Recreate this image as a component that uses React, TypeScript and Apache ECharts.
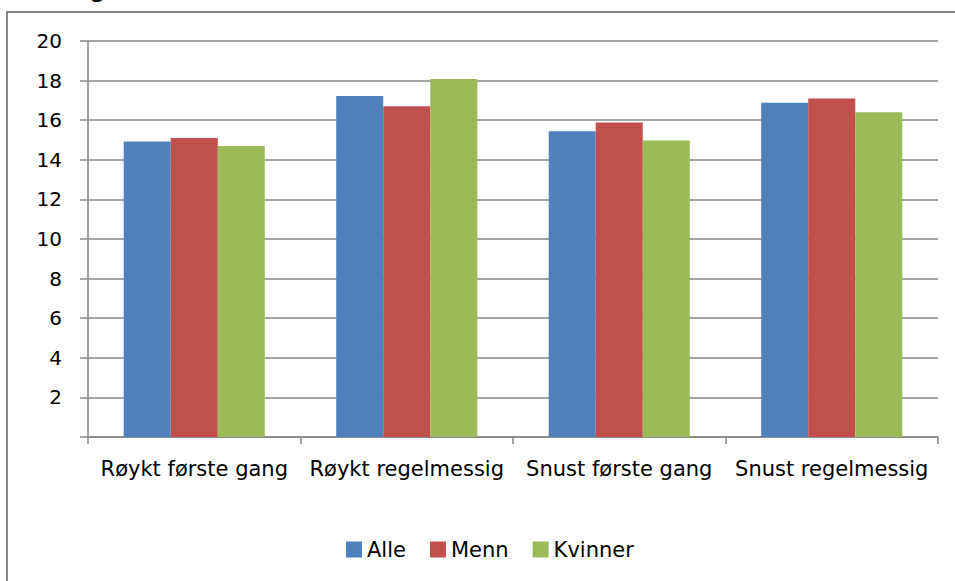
import React, { useEffect, useRef } from "react";
import * as echarts from "echarts";

const categories = ["Røykt første gang", "Røykt regelmessig", "Snust første gang", "Snust regelmessig"];
const seriesNames = ["Alle", "Menn", "Kvinner"];
const alle = [14.92, 17.22, 15.44, 16.88];
const menn = [15.1, 16.7, 15.89, 17.09];
const kvinner = [14.7, 18.08, 14.98, 16.4];
const colors = ["#4F81BD", "#C0504D", "#9BBB59"];
const yMin = 0;
const yMax = 20;
const yInterval = 2;

const FONT = "DejaVu Sans";
const GRAY = "#868686";

export default function App() {
  const ref = useRef<HTMLDivElement>(null);
  useEffect(() => {
    if (!ref.current) return;
    const chart = echarts.init(ref.current, undefined, { renderer: "svg" });
    const values = [alle, menn, kvinner];
    chart.setOption({
      animation: false,
      backgroundColor: "#ffffff",
      textStyle: { fontFamily: FONT },
      grid: { left: 88, right: 17, top: 41, bottom: 144, containLabel: false },
      legend: {
        data: seriesNames,
        left: 341,
        top: 534,
        itemWidth: 16,
        itemHeight: 16,
        itemGap: 24,
        icon: "rect",
        textStyle: { fontFamily: FONT, fontSize: 21, color: "#000000" },
      },
      xAxis: {
        type: "category",
        data: categories,
        axisLine: { show: true, lineStyle: { color: GRAY, width: 1.5 } },
        axisTick: { show: true, length: 7, lineStyle: { color: GRAY, width: 1.5 } },
        axisLabel: { fontFamily: FONT, fontSize: 21, color: "#000000", margin: 21, interval: 0 },
      },
      yAxis: {
        type: "value",
        min: yMin,
        max: yMax,
        interval: yInterval,
        axisLine: { show: true, lineStyle: { color: GRAY, width: 1.5 } },
        axisTick: { show: true, length: 8, lineStyle: { color: GRAY, width: 1.5 } },
        splitLine: { show: true, lineStyle: { color: GRAY, width: 1.5 } },
        axisLabel: {
          fontFamily: FONT,
          fontSize: 20,
          color: "#000000",
          margin: 26,
          formatter: (v: number) => (v === 0 ? "" : String(v)),
        },
      },
      series: seriesNames.map((name, i) => ({
        name,
        type: "bar",
        data: values[i],
        barGap: "0%",
        barCategoryGap: "33.6%",
        itemStyle: { color: colors[i] },
      })),
      graphic: [
        {
          type: "rect",
          shape: { x: 7, y: 12, width: 980, height: 600 },
          style: { fill: "none", stroke: GRAY, lineWidth: 2 },
          silent: true,
        },
        {
          type: "text",
          x: 90,
          y: -9,
          style: {
            text: "g",
            fontFamily: FONT,
            fontWeight: "bold",
            fontSize: 21,
            fill: "#000000",
            verticalAlign: "middle",
          },
          silent: true,
        },
      ],
    });
    return () => chart.dispose();
  }, []);
  return (
    <div
      ref={ref}
      style={{ position: "fixed", left: 0, top: 0, width: 955, height: 581 }}
    />
  );
}
